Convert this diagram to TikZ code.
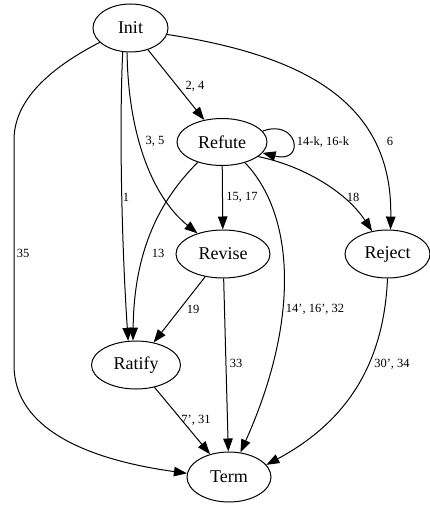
\documentclass[tikz,border=0pt]{standalone}
\usepackage{fontspec}
\setmainfont{Liberation Serif}
\usetikzlibrary{arrows.meta,shapes.geometric}
\definecolor{LineClr}{rgb}{0,0,0}

\begin{document}
\begin{tikzpicture}[x=1pt,y=-1pt,
  StateShape/.style={draw=LineClr,line width=1pt,ellipse,inner sep=0pt,minimum height=48pt,
    font=\fontsize{18}{20}\selectfont},
  EdgeLine/.style={draw=LineClr,line width=1pt,-{Triangle[length=13pt,width=9.5pt]}},
  EdgeLabel/.style={font=\fontsize{12.5}{14}\selectfont,inner sep=0pt}]
\useasboundingbox (0,0) rectangle (430,508);

\node[StateShape,minimum width=75pt] (Init) at (130.5,28) {Init};
\node[StateShape,minimum width=90pt,minimum height=47pt] (Refute) at (222,142) {Refute};
\node[StateShape,minimum width=94pt] (Revise) at (223,254) {Revise};
\node[StateShape,minimum width=85pt] (Reject) at (387.5,254) {Reject};
\node[StateShape,minimum width=89pt] (Ratify) at (136,365) {Ratify};
\node[StateShape,minimum width=84pt,minimum height=50pt] (Term) at (229,477) {Term};

\draw[EdgeLine] (Init) -- (Refute) node[EdgeLabel] at (195,86) {2, 4};
\draw[EdgeLine] (Init.262) .. controls (128,130) and (150,195) .. (Revise.141)
  node[EdgeLabel] at (155,141) {3, 5};
\draw[EdgeLine] (Init.252) .. controls (119,130) and (122,250) .. (Ratify.108)
  node[EdgeLabel] at (126,197) {1};
\draw[EdgeLine] (Init.205) .. controls (50,68) and (14,100) .. (14,140) -- (14,365)
  .. controls (14,430) and (90,460) .. (Term.175) node[EdgeLabel] at (23,253) {35};
\draw[EdgeLine] (Init.350) .. controls (300,55) and (393,100) .. (Reject.83)
  node[EdgeLabel] at (390,141) {6};

\draw[EdgeLine] (Refute.15) .. controls (298,118) and (306,164) .. (Refute.-15)
  node[EdgeLabel] at (323,142) {14-k, 16-k};
\draw[EdgeLine] (Refute) -- (Revise) node[EdgeLabel] at (242,197) {15, 17};
\draw[EdgeLine] (Refute.338) .. controls (300,165) and (345,190) .. (Reject.124)
  node[EdgeLabel] at (353,197) {18};
\draw[EdgeLine] (Refute.220) .. controls (160,200) and (134,250) .. (Ratify.97)
  node[EdgeLabel] at (158,253) {13};
\draw[EdgeLine] (Refute.318) .. controls (295,215) and (300,320) .. (Term.65)
  node[EdgeLabel] at (315,309) {14', 16', 32};

\draw[EdgeLine] (Revise) -- (Ratify) node[EdgeLabel] at (193,309) {19};
\draw[EdgeLine] (Revise) -- (Term) node[EdgeLabel] at (236,363) {33};
\draw[EdgeLine] (Ratify) -- (Term) node[EdgeLabel] at (196,420) {7', 31};
\draw[EdgeLine] (Reject.270) .. controls (384,360) and (350,420) .. (Term.18)
  node[EdgeLabel] at (392,364) {30', 34};

\end{tikzpicture}
\end{document}
